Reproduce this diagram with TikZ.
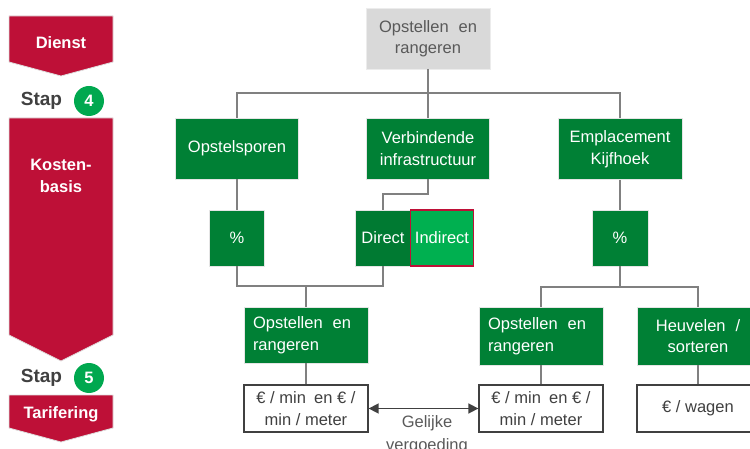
\documentclass[tikz,border=0pt]{standalone}
\usepackage{fontspec}
\setmainfont{Liberation Sans}
\usetikzlibrary{arrows.meta,calc}
\definecolor{crim}{HTML}{BE1037}
\definecolor{dgreen}{HTML}{008035}
\definecolor{lgreen}{HTML}{00B050}
\definecolor{cgreen}{HTML}{00A84F}
\definecolor{lgray}{HTML}{D9D9D9}
\definecolor{dtext}{HTML}{404040}
\definecolor{ttext}{HTML}{595959}
\definecolor{linec}{HTML}{808080}
\tikzset{
  base/.style={font=\fontsize{16.5}{21.5}\selectfont, align=center, inner sep=0pt, line width=0.8pt},
  gbox/.style={base, fill=dgreen, draw=gray!20, text=white},
  topbox/.style={base, fill=lgray, draw=gray!15, text=ttext},
  mbox/.style={base, fill=white, draw=dtext, line width=1.3pt, text=dtext},
  conn/.style={draw=linec, line width=1.6pt},
  banner/.style={fill=crim, draw=gray!25, line width=0.8pt},
  bantext/.style={font=\fontsize{16.5}{22}\selectfont\bfseries, text=white, align=center, inner sep=0pt},
  staptext/.style={font=\fontsize{19}{22}\selectfont\bfseries, text=dtext, inner sep=0pt},
  stapnum/.style={circle, fill=cgreen, minimum size=30pt, inner sep=0pt, text=white, font=\fontsize{16.5}{20}\selectfont\bfseries},
  dbl/.style={draw=dtext, line width=1.6pt, {Triangle[length=10pt,width=10pt]}-{Triangle[length=10pt,width=10pt]}},
  lbl/.style={font=\fontsize{16.5}{22.5}\selectfont, text=ttext, align=center, inner sep=0pt}
}
\begin{document}
\begin{tikzpicture}[x=1pt,y=-1pt]
\useasboundingbox (0,0) rectangle (750,449);
% left column banners
\draw[banner] (9,16) -- (113,16) -- (113,62) -- (61,76) -- (9,62) -- cycle;
\node[bantext] (dienst) at (61,43) {Dienst};
\node[staptext] (stap4) at (41.5,101) {Stap};
\node[stapnum] (n4) at (89,101) {4};
\draw[banner] (9,118) -- (113,118) -- (113,335) -- (61,361) -- (9,335) -- cycle;
\node[bantext] (kosten) at (61,176) {Kosten-\\basis};
\node[staptext] (stap5) at (41.5,378) {Stap};
\node[stapnum] (n5) at (89,378) {5};
\draw[banner] (9,395) -- (113,395) -- (113,428) -- (61,442) -- (9,428) -- cycle;
\node[bantext] (tarif) at (61,414) {Tarifering};
% tree nodes
\node[topbox, minimum width=124pt, minimum height=61pt] (top) at (428,38.5) {Opstellen\hspace{0.6em}en\\rangeren};
\node[gbox, minimum width=123pt, minimum height=61pt] (ops) at (237,148.5) {Opstelsporen};
\node[gbox, minimum width=123pt, minimum height=61pt] (verb) at (428,148.5) {Verbindende\\infrastructuur};
\node[gbox, minimum width=124pt, minimum height=61pt] (empl) at (620,149) {Emplacement\\Kijfhoek};
\node[gbox, minimum width=55pt, minimum height=56pt] (p1) at (237,238) {\%};
\node[gbox, minimum width=55pt, minimum height=56pt, fill=dgreen!95!black] (direct) at (383,238) {Direct};
\node[gbox, minimum width=63pt, minimum height=56pt, fill=lgreen, draw=crim, line width=1.3pt] (indirect) at (442,238) {Indirect};
\node[gbox, minimum width=56pt, minimum height=56pt] (p3) at (620,238) {\%};
\node[gbox, text width=106pt, inner xsep=9pt, align=left, minimum height=56pt] (ore1) at (306,335) {Opstellen\hspace{0.6em}en\\rangeren};
\node[gbox, text width=106pt, inner xsep=9pt, align=left, minimum height=58pt] (ore2) at (541,336) {Opstellen\hspace{0.6em}en\\rangeren};
\node[gbox, minimum width=122pt, minimum height=58pt] (heu) at (698,336) {Heuvelen\hspace{0.6em}/\\sorteren};
\node[mbox, minimum width=124pt, minimum height=47pt] (m1) at (306,408.5) {€ / min\hspace{0.5em}en € /\\min / meter};
\node[mbox, minimum width=124pt, minimum height=47pt] (m2) at (541,408.5) {€ / min\hspace{0.5em}en € /\\min / meter};
\node[mbox, minimum width=122pt, minimum height=47pt] (m3) at (698,408.5) {€ / wagen};
% junctions
\coordinate (j1) at (428,93);
\coordinate (j2) at (383,194);
\coordinate (j3) at (306,286);
\coordinate (j4) at (620,287);
% connectors
\draw[conn] (top.south) -- (verb.north);
\draw[conn] (ops.north) |- (j1) -| (empl.north);
\draw[conn] (ops.south) -- (p1.north);
\draw[conn] (verb.south) |- (j2) -- (direct.north);
\draw[conn] (p1.south) |- (j3) -| (direct.south);
\draw[conn] (j3) -- (ore1.north);
\draw[conn] (empl.south) -- (p3.north);
\draw[conn] (p3.south) -- (j4);
\draw[conn] (ore2.north) |- (j4) -| (heu.north);
\draw[conn] (ore1.south) -- (m1.north);
\draw[conn] (ore2.south) -- (m2.north);
\draw[conn] (heu.south) -- (m3.north);
\draw[dbl] (m1.east) -- (m2.west);
\node[lbl] (gel) at (427,434.5) {Gelijke\\vergoeding};
\end{tikzpicture}
\end{document}
